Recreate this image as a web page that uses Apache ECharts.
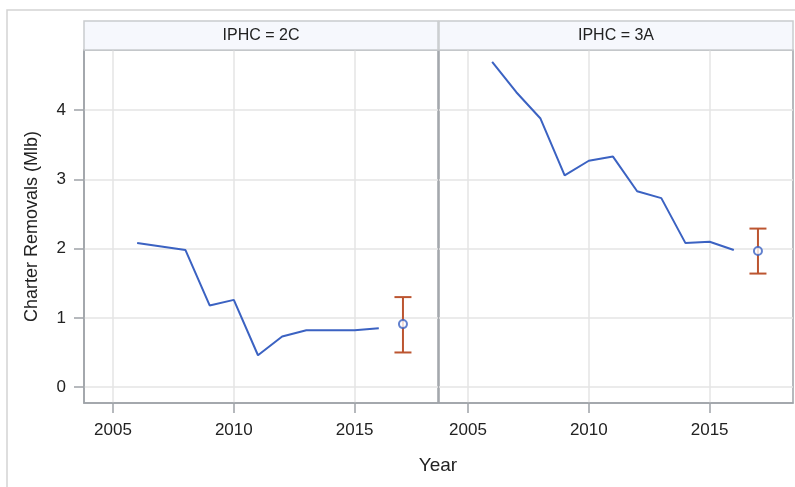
<!DOCTYPE html>
<html><head><meta charset="utf-8">
<script src="https://cdn.jsdelivr.net/npm/echarts@6/dist/echarts.min.js"></script>
<style>html,body{margin:0;padding:0;background:#fff}#c{width:795px;height:487px}</style>
</head><body><div id="c"></div>
<script>
// ---- data ----
const years = [2006, 2007, 2008, 2009, 2010, 2011, 2012, 2013, 2014, 2015, 2016];
const removals2C = [2.08, 2.03, 1.98, 1.18, 1.26, 0.46, 0.73, 0.82, 0.82, 0.82, 0.85];
const removals3A = [4.70, 4.26, 3.88, 3.06, 3.27, 3.33, 2.83, 2.73, 2.08, 2.10, 1.98];
const estYear = 2017;
const est2C = [0.91, 0.50, 1.30];   // estimate, lower, upper
const est3A = [1.965, 1.64, 2.29];
const panelTitles = ['IPHC = 2C', 'IPHC = 3A'];
const xTicks = [2005, 2010, 2015];
const yTicks = [0, 1, 2, 3, 4];
const xTitle = 'Year';
const yTitle = 'Charter Removals (Mlb)';

// ---- styles ----
const FONT = "'Liberation Sans', Arial, sans-serif";
const lineColor = '#3b62c2';
const errColor = '#bc5530';
const frameColor = '#9ea3a8';
const gridColor = '#e5e5e5';
const textColor = '#222';
const panelLeft = [84, 439];
const panelW = 354, panelTop = 50, panelH = 353;

const chart = echarts.init(document.getElementById('c'), null, {renderer: 'canvas'});

function errBar(params, api) {
  const x = api.value(0), lo = api.value(1), hi = api.value(2);
  const pLo = api.coord([x, lo]), pHi = api.coord([x, hi]);
  const hw = 8.5;
  const style = {stroke: errColor, lineWidth: 2, fill: null};
  return {type: 'group', children: [
    {type: 'line', shape: {x1: pLo[0], y1: pLo[1], x2: pHi[0], y2: pHi[1]}, style},
    {type: 'line', shape: {x1: pHi[0] - hw, y1: pHi[1], x2: pHi[0] + hw, y2: pHi[1]}, style},
    {type: 'line', shape: {x1: pLo[0] - hw, y1: pLo[1], x2: pLo[0] + hw, y2: pLo[1]}, style}
  ]};
}

const seriesData = [removals2C, removals3A];
const estData = [est2C, est3A];

const grids = [], xAxes = [], yAxes = [], series = [], graphics = [];
for (let i = 0; i < 2; i++) {
  grids.push({left: panelLeft[i], top: panelTop, width: panelW, height: panelH,
    show: true, borderColor: frameColor, borderWidth: 1.5, backgroundColor: '#fff', containLabel: false});
  xAxes.push({type: 'value', gridIndex: i, min: 2003.8, max: 2018.45,
    axisLine: {show: true, onZero: false, lineStyle: {color: frameColor, width: 1.5}},
    axisTick: {show: true, inside: false, length: 10, customValues: xTicks, lineStyle: {color: frameColor, width: 1.5}},
    axisLabel: {customValues: xTicks, margin: 19, color: textColor, fontSize: 17, fontFamily: FONT,
      formatter: v => String(v)},
    splitLine: {show: true, lineStyle: {color: gridColor, width: 1.5}}
  });
  yAxes.push({type: 'value', gridIndex: i, min: -0.23, max: 4.87,
    name: i === 0 ? yTitle : '', nameLocation: 'middle', nameGap: 43,
    nameTextStyle: {color: textColor, fontSize: 18, fontFamily: FONT},
    axisLine: {show: i === 0, onZero: false, lineStyle: {color: frameColor, width: 1.5}},
    axisTick: {show: i === 0, inside: false, length: 10, customValues: yTicks, lineStyle: {color: frameColor, width: 1.5}},
    axisLabel: {show: i === 0, customValues: yTicks, margin: 18, color: textColor, fontSize: 17, fontFamily: FONT,
      formatter: v => String(v)},
    splitLine: {show: true, lineStyle: {color: gridColor, width: 1.5}}
  });
  series.push({type: 'line', xAxisIndex: i, yAxisIndex: i,
    data: years.map((y, k) => [y, seriesData[i][k]]),
    showSymbol: false, symbol: 'none', lineStyle: {color: lineColor, width: 2}, z: 3, silent: true});
  series.push({type: 'custom', xAxisIndex: i, yAxisIndex: i,
    data: [[estYear, estData[i][1], estData[i][2]]], renderItem: errBar,
    encode: {x: 0, y: [1, 2]}, z: 4, silent: true});
  series.push({type: 'scatter', xAxisIndex: i, yAxisIndex: i,
    data: [[estYear, estData[i][0]]], symbol: 'circle', symbolSize: 8,
    itemStyle: {color: '#fff', borderColor: lineColor, borderWidth: 2}, z: 5, silent: true});
  graphics.push({type: 'rect', shape: {x: panelLeft[i], y: 21, width: panelW, height: 29},
    style: {fill: '#f6f8fd', stroke: '#c9cbce', lineWidth: 1.5}, z: 10});
  graphics.push({type: 'text', x: panelLeft[i] + panelW / 2, y: 35.5,
    style: {text: panelTitles[i], fill: textColor, font: '16px ' + FONT, align: 'center', verticalAlign: 'middle'}, z: 11});
}
graphics.push({type: 'rect', shape: {x: 7, y: 10, width: 800, height: 490},
  style: {fill: null, stroke: '#d3d3d3', lineWidth: 1.5}, z: -1, silent: true});
graphics.push({type: 'text', x: 438, y: 466,
  style: {text: xTitle, fill: textColor, font: '19px ' + FONT, align: 'center', verticalAlign: 'middle'}, z: 11});

chart.setOption({
  animation: false,
  backgroundColor: '#fff',
  grid: grids, xAxis: xAxes, yAxis: yAxes, series: series, graphic: graphics
});
</script></body></html>
